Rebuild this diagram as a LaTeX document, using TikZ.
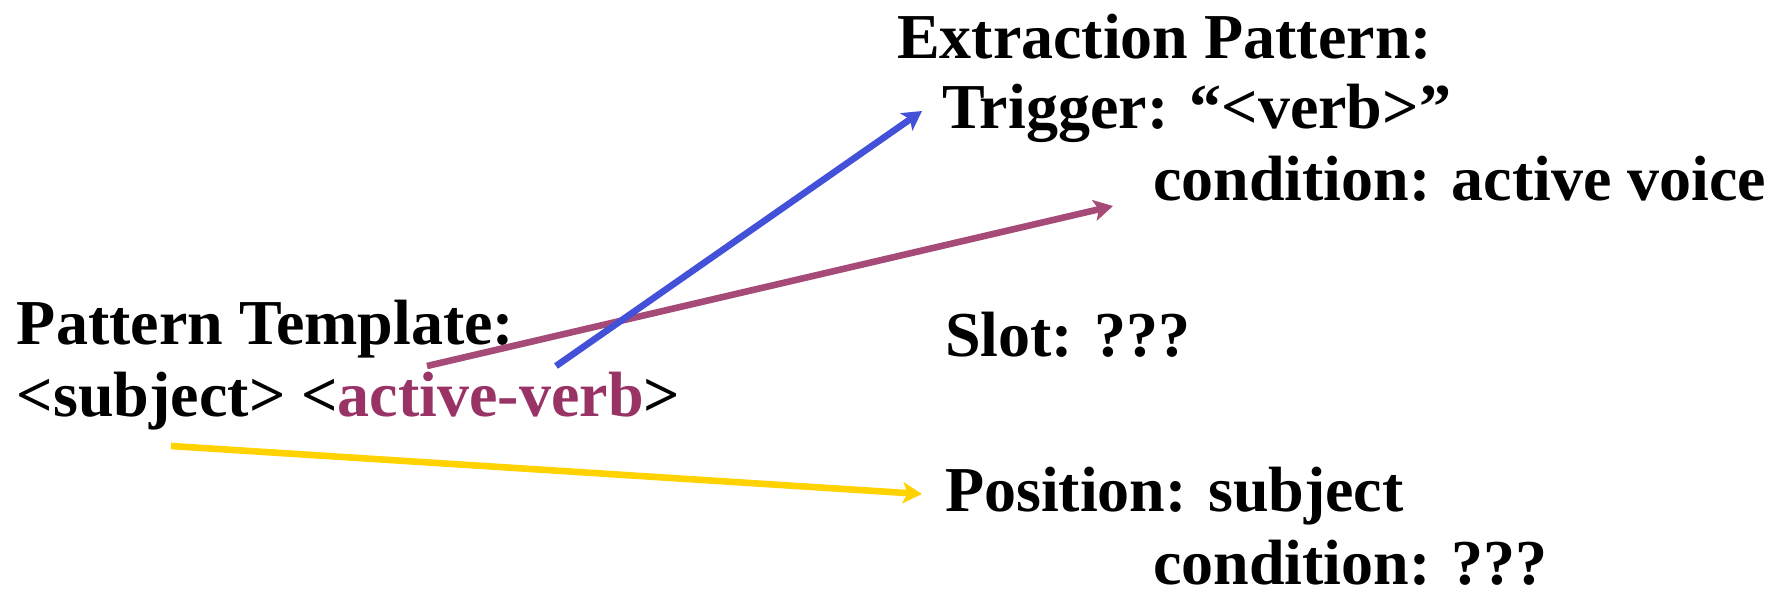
\documentclass[tikz,border=0pt]{standalone}
\usepackage{fontspec}
\setmainfont{Liberation Serif}
\usetikzlibrary{arrows.meta}
\definecolor{tplmag}{HTML}{993366}
\definecolor{arrmag}{HTML}{A64A78}
\definecolor{arrblue}{HTML}{4351D9}
\definecolor{arryel}{HTML}{FFD200}
\tikzset{
  txt/.style={anchor=base west, inner sep=0pt, outer sep=0pt, font=\fontsize{32}{32}\selectfont\bfseries},
  conn/.style={line width=3.3pt, -{Stealth[length=9.5pt,width=10.5pt,inset=2.2pt]}}
}
\begin{document}
\begin{tikzpicture}[x=0.5pt,y=-0.5pt]
\useasboundingbox (0,0) rectangle (1781,596);
\node[txt] (ext) at (897,58) {Extraction Pattern:};
\node[txt] (trig) at (942,128) {Trigger: “<verb>”};
\node[txt] (cond1) at (1153,200) {condition: active voice};
\node[txt] (pt) at (17,344) {Pattern Template:};
\node[txt] (subj) at (17,416) {<subject> <\textcolor{tplmag}{active-verb}>};
\node[txt] (slot) at (945,356) {Slot: ???};
\node[txt] (pos) at (945,511) {Position: subject};
\node[txt] (cond2) at (1153,584) {condition: ???};
\coordinate (bS) at (556,366);
\coordinate (bE) at (922,111);
\coordinate (mS) at (427,366);
\coordinate (mE) at (1113,206);
\coordinate (yS) at (171,446);
\coordinate (yE) at (922,494);
\draw[conn, arryel] (yS) -- (yE);
\draw[conn, arrmag] (mS) -- (mE);
\draw[conn, arrblue] (bS) -- (bE);
\end{tikzpicture}
\end{document}
